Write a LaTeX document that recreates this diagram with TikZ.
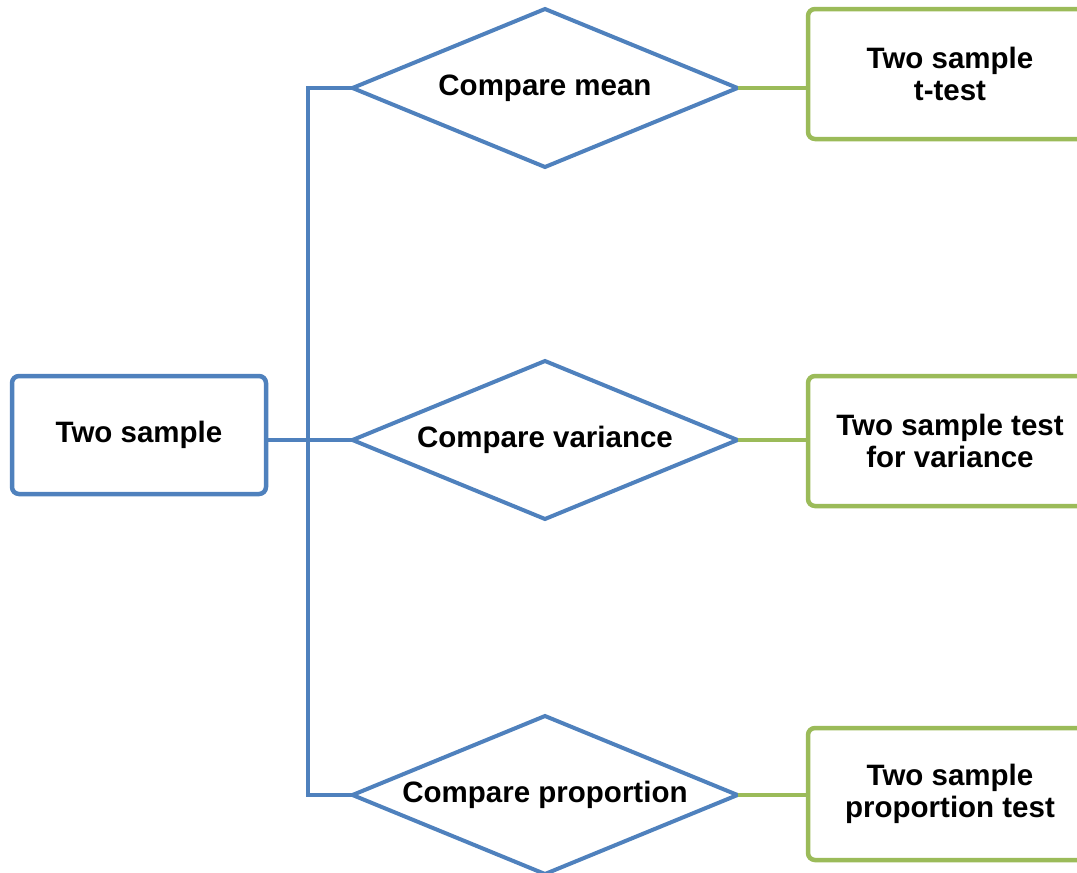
\documentclass[tikz,border=0pt]{standalone}
\usepackage{fontspec}
\setmainfont{Liberation Sans}
\definecolor{flowblue}{HTML}{4F81BD}
\definecolor{flowgreen}{HTML}{9BBB59}
\tikzset{
  lbl/.style={font=\bfseries\fontsize{29.5}{32}\selectfont, text=black, align=center},
  startbox/.style={lbl, draw=flowblue, line width=4.5pt, rounded corners=7pt,
    minimum width=254pt, minimum height=118pt, inner sep=0pt},
  choice/.style={lbl, inner sep=0pt, outer sep=0pt,
    minimum width=385pt, minimum height=158pt},
  diamondline/.style={draw=flowblue, line width=4pt, line join=miter},
  resultbox/.style={lbl, draw=flowgreen, line width=4.5pt, rounded corners=7pt,
    minimum width=284pt, inner sep=0pt},
  blueline/.style={draw=flowblue, line width=4pt},
  greenline/.style={draw=flowgreen, line width=4pt},
}
\begin{document}
\begin{tikzpicture}[x=1pt,y=-1pt]
\useasboundingbox (0,0) rectangle (1077,873);

% start node
\node[startbox] (two) at (139,435) {Two sample};

% decisions (text boxes, outlined as diamonds below)
\node[choice] (mean) at (545,88) {Compare mean};
\node[choice] (var)  at (545,440) {Compare variance};
\node[choice] (prop) at (545,795) {Compare proportion};
\foreach \d in {mean,var,prop}
  \draw[diamondline] (\d.west) -- (\d.north) -- (\d.east) -- (\d.south) -- cycle;

% results
\node[resultbox, minimum height=130pt] (ttest) at (950,74) {Two sample\\t-test};
\node[resultbox, minimum height=130pt] (vtest) at (950,441) {Two sample test\\for variance};
\node[resultbox, minimum height=132pt] (ptest) at (950,794) {Two sample\\proportion test};

% trunk joints
\coordinate (src) at (two.east |- var.west);
\coordinate (top) at (308,0 |- mean.west);
\coordinate (bot) at (308,0 |- prop.west);

\draw[blueline] (src) -- (var.west);
\draw[blueline, line join=miter] (mean.west) -- (top) -- (bot) -- (prop.west);

\draw[greenline] (mean.east) -- (ttest.west |- mean.east);
\draw[greenline] (var.east) -- (vtest.west |- var.east);
\draw[greenline] (prop.east) -- (ptest.west |- prop.east);
\end{tikzpicture}
\end{document}
